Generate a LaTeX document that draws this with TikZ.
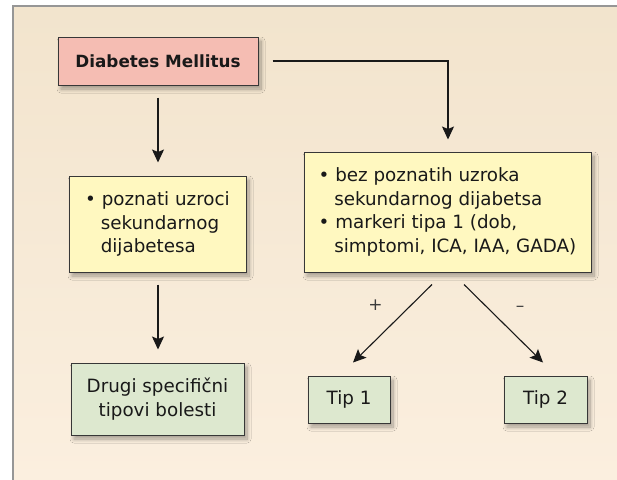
\documentclass[tikz,border=0pt]{standalone}
\usepackage{fontspec}
\setmainfont{DejaVu Sans}
\usetikzlibrary{shadows.blur,arrows.meta,calc}
\definecolor{bgtop}{RGB}{242,228,205}
\definecolor{bgbot}{RGB}{251,239,223}
\definecolor{frame}{RGB}{150,150,150}
\definecolor{salmon}{RGB}{245,189,179}
\definecolor{yel}{RGB}{255,248,192}
\definecolor{grn}{RGB}{221,232,207}
\definecolor{ink}{RGB}{25,25,25}
\definecolor{edge}{RGB}{55,55,55}
\tikzset{
  box/.style={draw=edge, line width=1pt, inner sep=0pt, text=ink,
    blur shadow={shadow xshift=3pt, shadow yshift=-4pt, shadow blur radius=4pt, shadow blur steps=12, shadow opacity=35}},
  txt/.style={font=\fontsize{18.3}{23.6}\selectfont},
  arr/.style={draw=ink, line width=1.1pt, -{Stealth[length=13pt,width=12pt,inset=2.5pt]}},
  sign/.style={text=ink!85, font=\fontsize{17}{18}\selectfont, inner sep=0pt}
}
\begin{document}
\begin{tikzpicture}[x=1pt,y=-1pt]
\useasboundingbox (0,0) rectangle (617,479);
\shade[top color=bgtop, bottom color=bgbot] (13,6) rectangle (620,482);
\draw[frame, line width=2.2pt] (13,482) -- (13,6) -- (620,6);

\node[box, fill=salmon, minimum width=200pt, minimum height=48pt,
  font=\fontsize{16.8}{20}\selectfont\bfseries] (DM) at (158,61) {Diabetes Mellitus};

\node[box, fill=yel, minimum width=177pt, minimum height=96pt, txt, align=left] (L) at (157.5,224)
  {\textbullet\ poznati uzroci\\\hspace*{0.85em}sekundarnog\\\hspace*{0.85em}dijabetesa};

\node[box, fill=yel, minimum width=287pt, minimum height=120pt, txt, align=left] (R) at (447.5,212)
  {\textbullet\ bez poznatih uzroka\\\hspace*{0.85em}sekundarnog dijabetsa\\\textbullet\ markeri tipa 1 (dob,\\\hspace*{0.85em}simptomi, ICA, IAA, GADA)};

\node[box, fill=grn, minimum width=173pt, minimum height=72pt, txt, align=center] (G) at (157.5,399)
  {Drugi specifični\\tipovi bolesti};

\node[box, fill=grn, minimum width=82pt, minimum height=47pt, txt] (T1) at (349,399.5) {Tip 1};
\node[box, fill=grn, minimum width=83pt, minimum height=47pt, txt] (T2) at (545.5,399.5) {Tip 2};

\node[sign] (plus) at (375.5,305) {+};
\node[sign] (minus) at (520,309) {–};

\coordinate (c1) at (448,61);
\draw[arr] ($(DM.south)+(0,12)$) -- ($(L.north)+(0.5,-13)$);
\draw[arr] ($(DM.east)+(14,0)$) -- (c1) -- ($(R.north)+(0.5,-12)$);
\draw[arr] ($(L.south)+(0.5,12)$) -- ($(G.north)+(0.5,-13)$);
\draw[arr] ($(R.south)+(-15.5,12)$) -- ($(T1.north)+(4,-13)$);
\draw[arr] ($(R.south)+(16.5,12)$) -- ($(T2.north)+(-2.5,-13)$);
\end{tikzpicture}
\end{document}
